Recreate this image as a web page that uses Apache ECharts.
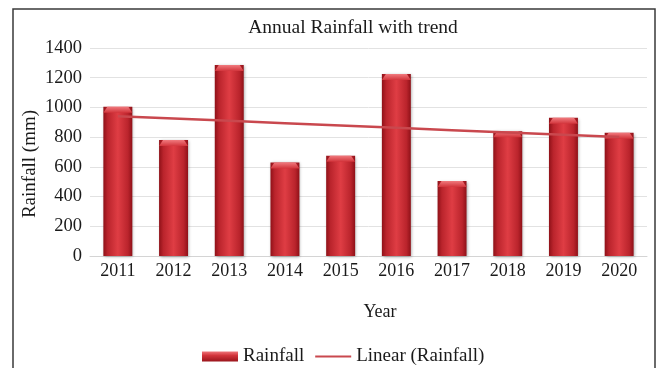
<!DOCTYPE html>
<html>
<head>
<meta charset="utf-8">
<title>Annual Rainfall with trend</title>
<script src="https://cdn.jsdelivr.net/npm/echarts@6/dist/echarts.min.js"></script>
<style>
  html, body { margin: 0; padding: 0; background: #ffffff; }
  #chart { width: 661px; height: 368px; }
</style>
</head>
<body>
<div id="chart"></div>
<script>
// Annual rainfall (mm) per year
const years = ['2011', '2012', '2013', '2014', '2015', '2016', '2017', '2018', '2019', '2020'];
const rainfall = [1005, 780, 1285, 630, 675, 1225, 505, 840, 930, 830];

// Value axis range
const yMin = 0;
const yMax = 1400;
const yStep = 200;

// Least-squares linear trend of the rainfall series
function linearTrend(values) {
  const n = values.length;
  let sx = 0, sy = 0, sxy = 0, sxx = 0;
  values.forEach((v, i) => { sx += i; sy += v; sxy += i * v; sxx += i * i; });
  const slope = (n * sxy - sx * sy) / (n * sxx - sx * sx);
  const intercept = (sy - slope * sx) / n;
  return values.map((_, i) => +(intercept + slope * i).toFixed(2));
}
const trend = linearTrend(rainfall);

const FONT = '"Liberation Serif", "Times New Roman", serif';

const sideGradient = new echarts.graphic.LinearGradient(0, 0, 1, 0, [
  { offset: 0, color: '#8f1118' },
  { offset: 0.15, color: '#ba242c' },
  { offset: 0.5, color: '#df3d44' },
  { offset: 0.85, color: '#ba242c' },
  { offset: 1, color: '#8f1118' }
]);
const capGradient = new echarts.graphic.LinearGradient(0, 0, 0, 1, [
  { offset: 0, color: '#f07a7e' },
  { offset: 1, color: '#d2343b' }
]);
const legendGradient = new echarts.graphic.LinearGradient(0, 0, 0, 1, [
  { offset: 0, color: '#ef7579' },
  { offset: 0.4, color: '#d2343b' },
  { offset: 1, color: '#9a151c' }
]);

// Bevelled column drawn through the axis scales
function renderColumn(params, api) {
  const top = api.coord([api.value(0), api.value(1)]);
  const base = api.coord([api.value(0), 0]);
  const w = api.size([1, 0])[0] * 0.52;
  const x = top[0] - w / 2;
  const h = base[1] - top[1];
  const bevel = Math.min(6, h);
  return {
    type: 'group',
    children: [
      {
        type: 'rect',
        shape: { x: x, y: top[1], width: w, height: h },
        style: {
          fill: sideGradient,
          shadowBlur: 3,
          shadowOffsetX: 1,
          shadowOffsetY: 1,
          shadowColor: 'rgba(0,0,0,0.35)'
        }
      },
      {
        type: 'polygon',
        shape: {
          points: [
            [x, top[1] + bevel],
            [x + 4, top[1]],
            [x + w - 4, top[1]],
            [x + w, top[1] + bevel]
          ]
        },
        style: { fill: capGradient }
      }
    ]
  };
}

const chart = echarts.init(document.getElementById('chart'), null, { renderer: 'canvas' });

chart.setOption({
  animation: false,
  backgroundColor: '#ffffff',
  title: {
    text: 'Annual Rainfall with trend',
    left: 348,
    top: 13,
    textAlign: 'center',
    textStyle: { fontFamily: FONT, fontSize: 19.5, fontWeight: 'normal', color: '#1a1a1a' }
  },
  graphic: [
    {
      type: 'rect',
      shape: { x: 13, y: 9, width: 642, height: 380 },
      style: { fill: 'none', stroke: '#3a3a3a', lineWidth: 1.5 },
      silent: true,
      z: 100
    }
  ],
  legend: {
    left: 197,
    top: 342,
    itemWidth: 36,
    itemHeight: 10,
    itemGap: 10,
    textStyle: { fontFamily: FONT, fontSize: 19, color: '#1a1a1a' },
    data: [
      { name: 'Rainfall', icon: 'rect', itemStyle: { color: legendGradient } },
      { name: 'Linear (Rainfall)', itemStyle: { opacity: 0 } }
    ]
  },
  grid: { left: 90, right: 14, top: 48, bottom: 112, containLabel: false },
  xAxis: {
    type: 'category',
    data: years,
    name: 'Year',
    nameLocation: 'middle',
    nameGap: 47,
    nameTextStyle: { fontFamily: FONT, fontSize: 18, color: '#1a1a1a', padding: [0, 0, 0, 23] },
    axisLine: { show: true, lineStyle: { color: '#d4d4d4', width: 1 } },
    axisTick: { show: false },
    axisLabel: { fontFamily: FONT, fontSize: 18, color: '#1a1a1a', margin: 6 }
  },
  yAxis: {
    type: 'value',
    min: yMin,
    max: yMax,
    interval: yStep,
    name: 'Rainfall (mm)',
    nameLocation: 'middle',
    nameGap: 50,
    nameMoveOverlap: false,
    nameTextStyle: { fontFamily: FONT, fontSize: 19, color: '#1a1a1a', padding: [0, 24, 0, 0] },
    axisLine: { show: false },
    axisTick: { show: false },
    axisLabel: {
      fontFamily: FONT,
      fontSize: 18.5,
      color: '#1a1a1a',
      margin: 8,
      formatter: (v) => String(v)
    },
    splitLine: { lineStyle: { color: '#e2e2e2', width: 1 } }
  },
  series: [
    {
      name: 'Rainfall',
      type: 'custom',
      renderItem: renderColumn,
      encode: { x: 0, y: 1 },
      data: rainfall.map((v, i) => [i, v]),
      itemStyle: { color: '#c8282f' },
      z: 2
    },
    {
      name: 'Linear (Rainfall)',
      type: 'line',
      data: trend,
      symbol: 'none',
      lineStyle: { color: '#c9484e', width: 2.5 },
      itemStyle: { color: '#c9484e' },
      z: 5
    }
  ]
});
</script>
</body>
</html>
